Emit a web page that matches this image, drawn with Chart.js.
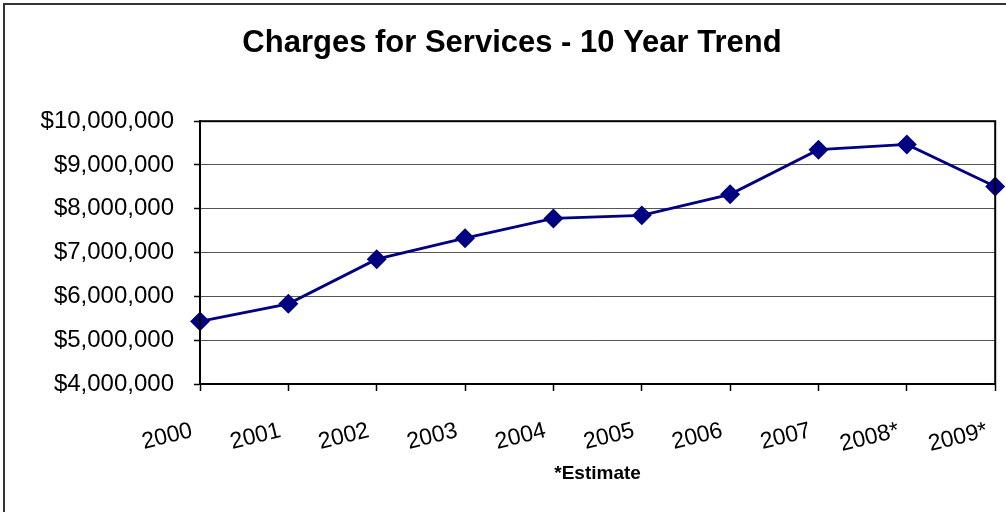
<!DOCTYPE html>
<html>
<head>
<meta charset="utf-8">
<script src="https://cdn.jsdelivr.net/npm/chart.js@4"></script>
<style>
  html, body { margin: 0; padding: 0; background: #fff; overflow: hidden; }
  #wrap { position: absolute; left: 0; top: 0; width: 1006px; height: 512px; }
  #chart { display: block; width: 1006px; height: 512px; }
  #frame {
    position: absolute; left: 3px; top: 3px; width: 1100px; height: 600px;
    border: 2px solid #333; pointer-events: none;
  }
</style>
</head>
<body>
<div id="wrap"><canvas id="chart" width="1006" height="512"></canvas></div>
<div id="frame"></div>
<script>
// ── Data ──────────────────────────────────────────────────────
const years   = ['2000', '2001', '2002', '2003', '2004', '2005', '2006', '2007', '2008*', '2009*'];
const charges = [5430000, 5830000, 6850000, 7330000, 7780000, 7850000, 8330000, 9350000, 9470000, 8510000];
const yTicks  = [4000000, 5000000, 6000000, 7000000, 8000000, 9000000, 10000000];

const FONT = 'Liberation Sans, Arial, sans-serif';
const PAD_LEFT = 28;

// Box around the plot area (top/right edges)
const plotFrame = {
  id: 'plotFrame',
  afterDatasetsDraw(chart) {
    const { ctx, chartArea: a } = chart;
    ctx.save();
    ctx.strokeStyle = '#000';
    ctx.lineWidth = 2;
    ctx.strokeRect(a.left, a.top, a.right - a.left, a.bottom - a.top);
    ctx.restore();
  },
};

new Chart(document.getElementById('chart'), {
  type: 'line',
  data: {
    labels: years,
    datasets: [{
      data: charges,
      borderColor: '#000080',
      backgroundColor: '#000080',
      borderWidth: 2.8,
      pointStyle: 'rectRot',
      pointRadius: 8,
      pointHoverRadius: 8,
      pointBackgroundColor: '#000080',
      pointBorderColor: '#000080',
      tension: 0,
      clip: false,
    }],
  },
  options: {
    responsive: false,
    animation: false,
    devicePixelRatio: 1,
    layout: { padding: { left: PAD_LEFT, right: 10, top: 0, bottom: 0 } },
    plugins: {
      legend: { display: false },
      tooltip: { enabled: false },
      title: {
        display: true,
        text: 'Charges for Services - 10 Year Trend',
        color: '#000',
        font: { family: FONT, size: 31, weight: 'bold' },
        padding: { top: 25, bottom: 59 },
      },
    },
    scales: {
      x: {
        offset: false,
        grid: { drawOnChartArea: false, tickLength: 7, tickColor: '#000', tickWidth: 1.5 },
        border: { display: true, color: '#000', width: 2 },
        ticks: {
          color: '#000',
          font: { family: FONT, size: 23 },
          minRotation: 14,
          maxRotation: 14,
          padding: 26,
          labelOffset: -8,
          autoSkip: false,
        },
        title: {
          display: true,
          text: '*Estimate',
          color: '#000',
          font: { family: FONT, size: 19, weight: 'bold' },
          padding: { top: 0, bottom: 27 },
        },
        afterFit: s => { s.height = 128; s.paddingLeft = 0; s.paddingRight = 0; },
      },
      y: {
        min: 4000000,
        max: 10000000,
        afterBuildTicks: s => { s.ticks = yTicks.map(v => ({ value: v })); },
        grid: { color: '#555', lineWidth: 1, tickLength: 6, tickColor: '#000', tickWidth: 1.5 },
        border: { display: true, color: '#000', width: 2 },
        ticks: {
          color: '#000',
          font: { family: FONT, size: 24 },
          padding: 20,
          callback: v => '$' + v.toLocaleString('en-US'),
        },
        afterFit: s => { s.width = 200 - PAD_LEFT; },
      },
    },
  },
  plugins: [plotFrame],
});
</script>
</body>
</html>
